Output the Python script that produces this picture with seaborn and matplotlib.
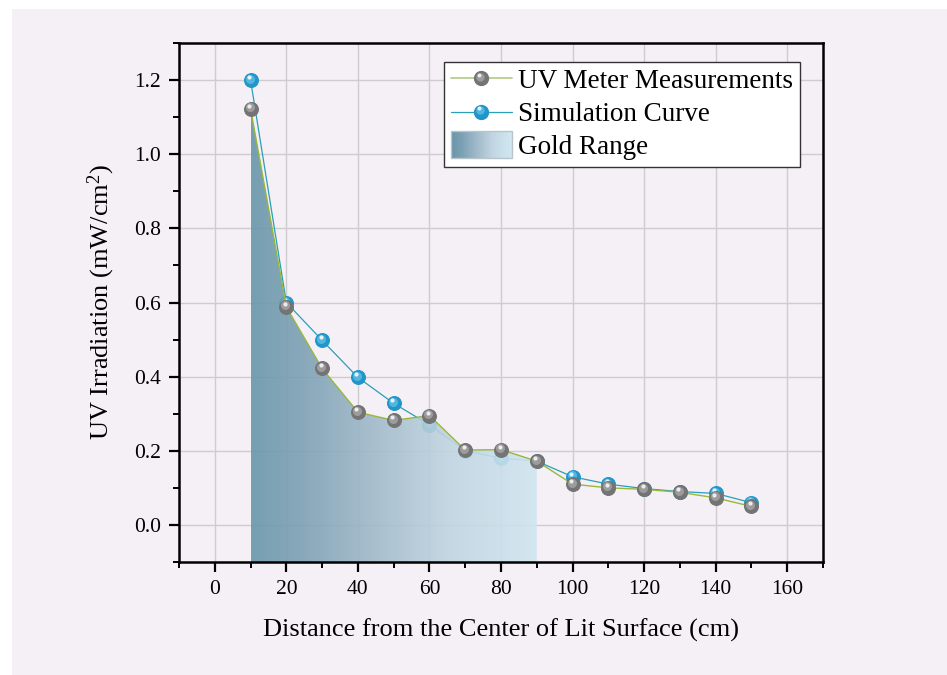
import numpy as np
import pandas as pd
import matplotlib
matplotlib.use("Agg")
import matplotlib.pyplot as plt
import seaborn as sns
from matplotlib.patches import Rectangle, Polygon
from matplotlib.legend_handler import HandlerBase, HandlerLine2D
from matplotlib.lines import Line2D
from matplotlib.colors import LinearSegmentedColormap
from matplotlib.transforms import offset_copy
from matplotlib.ticker import MultipleLocator, FormatStrFormatter

# ---------------- data ----------------
distance = [10, 20, 30, 40, 50, 60, 70, 80, 90, 100, 110, 120, 130, 140, 150]
measured = [1.123, 0.588, 0.422, 0.304, 0.282, 0.295, 0.202, 0.203, 0.172,
            0.110, 0.100, 0.096, 0.088, 0.073, 0.050]
simulated = [1.200, 0.600, 0.498, 0.398, 0.328, 0.270, 0.200, 0.180, 0.172,
             0.130, 0.110, 0.098, 0.090, 0.085, 0.060]
gold_start, gold_end = 10, 90
label_measured = "UV Meter Measurements"
label_sim = "Simulation Curve"
label_gold = "Gold Range"
xlabel = "Distance from the Center of Lit Surface (cm)"
ylabel = r"UV Irradiation (mW/cm$^{2}$)"

df = pd.DataFrame({"distance": distance, "measured": measured, "simulated": simulated})

# ---------------- style ----------------
sns.set_style("ticks")
plt.rcParams["font.family"] = ["Liberation Serif", "DejaVu Serif"]
plt.rcParams["mathtext.fontset"] = "custom"
plt.rcParams["mathtext.rm"] = "Liberation Serif"
plt.rcParams["mathtext.it"] = "Liberation Serif:italic"
for k in ["text.color", "axes.labelcolor", "xtick.color", "ytick.color", "axes.edgecolor"]:
    plt.rcParams[k] = "black"

BG = "#f5f0f6"
GREEN = "#98b83c"
GREEN_LEG = "#b6d08e"
TEAL = "#2b9fb8"
GRAY = "#747474"
GRAY_MID = "#9c9c9c"
GRAY_HI = "#ececec"
BLUE = "#2196c8"
BLUE_MID = "#52b6e0"
BLUE_HI = "#e4f5fc"

fig = plt.figure(figsize=(9.47, 6.75), dpi=100, facecolor=BG)
# white strips at the top and left edges
fig.add_artist(Rectangle((0, 0), 12 / 947, 1, transform=fig.transFigure,
                         facecolor="white", edgecolor="none", zorder=-10))
fig.add_artist(Rectangle((0, 1 - 9 / 675), 1, 9 / 675, transform=fig.transFigure,
                         facecolor="white", edgecolor="none", zorder=-10))
ax = fig.add_axes([179 / 947, 113 / 675, (823 - 179) / 947, (562 - 43) / 675])
ax.set_facecolor(BG)

ax.grid(True, which="major", color="#cfcbd0", linewidth=1.0, zorder=0)
ax.set_axisbelow(True)

MS = 10


def sphere(xs, ys, mid, hi, z):
    ax.plot(xs, ys, linestyle="none", marker="o", markersize=6.5,
            markerfacecolor=mid, markeredgecolor="none", zorder=z,
            transform=offset_copy(ax.transData, fig=fig, x=-1.0, y=1.5, units="dots"))
    ax.plot(xs, ys, linestyle="none", marker="o", markersize=3,
            markerfacecolor=hi, markeredgecolor="none", zorder=z + 0.01,
            transform=offset_copy(ax.transData, fig=fig, x=-1.5, y=3.0, units="dots"))


# simulation line (beneath the gold fill)
sns.lineplot(data=df, x="distance", y="simulated", ax=ax, color=TEAL, linewidth=0.9,
             marker="o", markersize=MS, markerfacecolor=BLUE, markeredgecolor=BLUE,
             zorder=2, legend=False)
sphere(df["distance"], df["simulated"], BLUE_MID, BLUE_HI, 2.1)

# gold range gradient fill, clipped under measurement curve
sel = df[(df["distance"] >= gold_start) & (df["distance"] <= gold_end)]
poly_x = [gold_start] + list(sel["distance"]) + [gold_end]
poly_y = [-0.1] + list(sel["measured"]) + [-0.1]
clip = Polygon(np.column_stack([poly_x, poly_y]), closed=True, transform=ax.transData,
               facecolor="none", edgecolor="none")
ax.add_patch(clip)
cmap = LinearSegmentedColormap.from_list(
    "gold", [(0.0, "#6896aa"), (0.2, "#7fa2b5"), (0.45, "#a3bccb"),
             (0.7, "#c1d6e2"), (1.0, "#d0e6f0")])
grad = np.linspace(0, 1, 256).reshape(1, -1)
im = ax.imshow(grad, extent=[gold_start, gold_end, -0.1, 1.3], aspect="auto",
               cmap=cmap, alpha=0.9, zorder=2.5, interpolation="bicubic")
im.set_clip_path(clip)

# measurement line on top
sns.lineplot(data=df, x="distance", y="measured", ax=ax, color=GREEN, linewidth=1.0,
             marker="o", markersize=MS, markerfacecolor=GRAY, markeredgecolor=GRAY,
             zorder=3, legend=False)
sphere(df["distance"], df["measured"], GRAY_MID, GRAY_HI, 3.1)

ax.set_xlim(-10, 170)
ax.set_ylim(-0.1, 1.3)

# ticks and spines
ax.xaxis.set_major_locator(MultipleLocator(20))
ax.xaxis.set_minor_locator(MultipleLocator(10))
ax.yaxis.set_major_locator(MultipleLocator(0.2))
ax.yaxis.set_minor_locator(MultipleLocator(0.1))
ax.yaxis.set_major_formatter(FormatStrFormatter("%.1f"))
ax.tick_params(which="major", direction="out", length=7, width=1.6, labelsize=15.5,
               colors="black", pad=6)
ax.tick_params(which="minor", direction="out", length=4, width=1.4, colors="black")
for s in ax.spines.values():
    s.set_visible(True)
    s.set_linewidth(1.8)
    s.set_color("black")

ax.set_xlabel(xlabel, fontsize=19, labelpad=14)
ax.set_ylabel(ylabel, fontsize=19, labelpad=12)


# legend
class GradientHandler(HandlerBase):
    def create_artists(self, legend, orig_handle, xdescent, ydescent, width, height,
                       fontsize, trans):
        n = 40
        h = height * 1.4
        y0 = -ydescent - (h - height) / 2
        arts = []
        for i in range(n):
            arts.append(Rectangle((-xdescent + width * i / n, y0), width / n + 0.3, h,
                                  facecolor=cmap(i / (n - 1)), edgecolor="none",
                                  transform=trans))
        arts.append(Rectangle((-xdescent, y0), width, h, facecolor="none",
                              edgecolor="#b8c4cc", linewidth=1.0, transform=trans))
        return arts


class SphereLineHandler(HandlerLine2D):
    def __init__(self, mid, hi, **kw):
        super().__init__(**kw)
        self.mid = mid
        self.hi = hi

    def create_artists(self, legend, orig_handle, xdescent, ydescent, width, height,
                       fontsize, trans):
        arts = super().create_artists(legend, orig_handle, xdescent, ydescent, width,
                                      height, fontsize, trans)
        cx = -xdescent + width / 2
        cy = -ydescent + height / 2
        a = Line2D([cx - 0.8], [cy + 1.2], linestyle="none", marker="o", markersize=6,
                   markerfacecolor=self.mid, markeredgecolor="none", transform=trans)
        b = Line2D([cx - 1.3], [cy + 2.4], linestyle="none", marker="o", markersize=2.8,
                   markerfacecolor=self.hi, markeredgecolor="none", transform=trans)
        return arts + [a, b]


h_meas = Line2D([], [], color=GREEN_LEG, linewidth=1.3, marker="o", markersize=MS,
                markerfacecolor=GRAY, markeredgecolor=GRAY)
h_sim = Line2D([], [], color=TEAL, linewidth=0.9, marker="o", markersize=MS,
               markerfacecolor=BLUE, markeredgecolor=BLUE)
h_gold = Rectangle((0, 0), 1, 1)
leg = ax.legend([h_meas, h_sim, h_gold], [label_measured, label_sim, label_gold],
                handler_map={Rectangle: GradientHandler(),
                             h_meas: SphereLineHandler(GRAY_MID, GRAY_HI),
                             h_sim: SphereLineHandler(BLUE_MID, BLUE_HI)},
                loc="upper right", bbox_to_anchor=(0.9645, 0.963), fontsize=19.5,
                frameon=True, fancybox=False, edgecolor="#333333", framealpha=1,
                handlelength=2.25, handletextpad=0.25, borderpad=0.25, labelspacing=0.3,
                borderaxespad=0)
leg.get_frame().set_linewidth(1.0)

fig.savefig("out.png", dpi=100, facecolor=fig.get_facecolor())
